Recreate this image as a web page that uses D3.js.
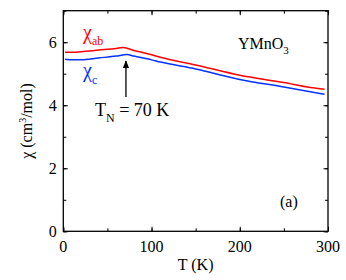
<!DOCTYPE html>
<html><head><meta charset="utf-8">
<script src="https://cdn.jsdelivr.net/npm/d3@7"></script>
<style>body{margin:0;background:#fff}svg{display:block}text{font-family:"Liberation Serif","Times New Roman",serif}</style>
</head><body>
<script>
const tAB = [2,10,20,40,60,68,80,100,110,150,200,250,280,296];
const chiAB = [5.68,5.68,5.70,5.75,5.80,5.83,5.74,5.60,5.52,5.28,4.95,4.72,4.56,4.51];
const tC = [2,10,20,40,60,72,80,100,110,150,200,250,296];
const chiC = [5.46,5.44,5.44,5.50,5.56,5.61,5.56,5.44,5.37,5.15,4.82,4.58,4.35];
const xTicks = [0,100,200,300];
const yTicks = [0,2,4,6];

const W=346,H=280, L=63.3,R=328,T=10.7,B=231.3;
const svg=d3.select("body").append("svg").attr("width",W).attr("height",H);
const x=d3.scaleLinear().domain([0,300]).range([L,R]);
const y=d3.scaleLinear().domain([0,7]).range([B,T]);

const xMinor=d3.range(0,301,50), yMinor=d3.range(0,8,1);
const fs="16px";
function tickSet(vals, size){
  svg.append("g").attr("transform",`translate(0,${B})`).call(d3.axisTop(x).tickValues(vals).tickSize(size).tickFormat("")).call(g=>g.select(".domain").remove());
  svg.append("g").attr("transform",`translate(0,${T})`).call(d3.axisBottom(x).tickValues(vals).tickSize(size).tickFormat("")).call(g=>g.select(".domain").remove());
}
function tickSetY(vals, size){
  svg.append("g").attr("transform",`translate(${L},0)`).call(d3.axisRight(y).tickValues(vals).tickSize(size).tickFormat("")).call(g=>g.select(".domain").remove());
  svg.append("g").attr("transform",`translate(${R},0)`).call(d3.axisLeft(y).tickValues(vals).tickSize(size).tickFormat("")).call(g=>g.select(".domain").remove());
}
tickSet(xMinor,3); tickSetY(yMinor,3);
tickSet(xTicks,4.5); tickSetY(yTicks,4.5);
svg.selectAll(".tick line").attr("stroke","#000").attr("stroke-width",1);
// frame
svg.append("rect").attr("x",L).attr("y",T).attr("width",R-L).attr("height",B-T).attr("fill","none").attr("stroke","#000").attr("stroke-width",1.3);
// tick labels
svg.selectAll(".xl").data(xTicks).enter().append("text").attr("x",d=>x(d)).attr("y",B+21).attr("text-anchor","middle").attr("font-size",fs).text(d=>d);
svg.selectAll(".yl").data(yTicks).enter().append("text").attr("x",L-6.5).attr("y",d=>y(d)+5.5).attr("text-anchor","end").attr("font-size",fs).text(d=>d);
// axis titles
svg.append("text").attr("x",(L+R)/2).attr("y",270).attr("text-anchor","middle").attr("font-size",fs).text("T (K)");
const yt=svg.append("text").attr("transform",`translate(32,${(T+B)/2}) rotate(-90)`).attr("text-anchor","middle").attr("font-size",fs);
yt.append("tspan").text("χ (cm");
yt.append("tspan").attr("font-size","10px").attr("dy",-6).text("3");
yt.append("tspan").attr("dy",6).text("/mol)");
// lines
const line=d3.line().x(d=>x(d[0])).y(d=>y(d[1])).curve(d3.curveMonotoneX);
svg.append("path").datum(tAB.map((t,i)=>[t,chiAB[i]])).attr("d",line).attr("fill","none").attr("stroke","#ff0000").attr("stroke-width",1.5);
svg.append("path").datum(tC.map((t,i)=>[t,chiC[i]])).attr("d",line).attr("fill","none").attr("stroke","#0033ff").attr("stroke-width",1.5);
// labels
const la=svg.append("text").attr("x",83).attr("y",39).attr("fill","#ff0000").attr("font-size","20px");
la.append("tspan").text("χ");
la.append("tspan").attr("font-size","12px").attr("dy",6).text("ab");
const lc=svg.append("text").attr("x",83).attr("y",77).attr("fill","#0033ff").attr("font-size","20px");
lc.append("tspan").text("χ");
lc.append("tspan").attr("font-size","12px").attr("dy",7).text("c");
// arrow
svg.append("defs").append("marker").attr("id","ah").attr("viewBox","0 0 10 10").attr("refX",9).attr("refY",5).attr("markerWidth",6).attr("markerHeight",6).attr("orient","auto")
  .append("path").attr("d","M0,1 L10,5 L0,9 z").attr("fill","#000");
svg.append("line").attr("x1",x(71)).attr("x2",x(71)).attr("y1",97).attr("y2",61).attr("stroke","#000").attr("stroke-width",1.3).attr("marker-end","url(#ah)");
const tn=svg.append("text").attr("x",95).attr("y",116).attr("font-size","18px");
tn.append("tspan").text("T");
tn.append("tspan").attr("font-size","12px").attr("dy",6).text("N");
tn.append("tspan").attr("dy",-6).text(" = 70 K");
const ym=svg.append("text").attr("x",238).attr("y",49).attr("font-size","16px");
ym.append("tspan").text("YMnO");
ym.append("tspan").attr("font-size","11px").attr("dy",5).text("3");
svg.append("text").attr("x",280).attr("y",207).attr("font-size","16px").text("(a)");
</script>
</body></html>
